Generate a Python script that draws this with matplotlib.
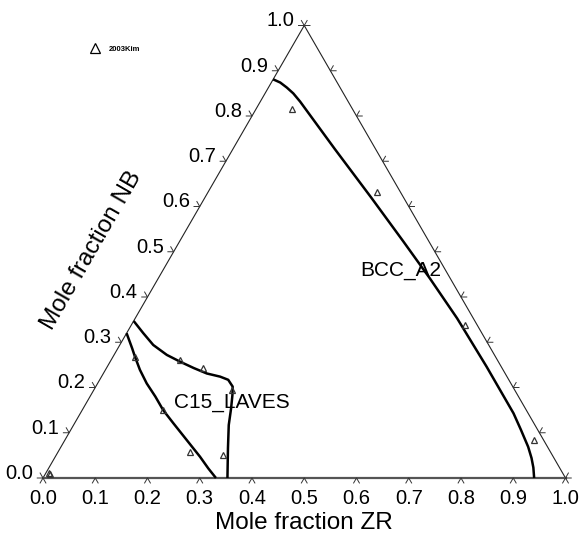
import numpy as np
import matplotlib
matplotlib.use("Agg")
import matplotlib.pyplot as plt

plt.rcParams['font.family'] = ['Liberation Sans', 'DejaVu Sans']

# boundary lines, (mole fraction ZR, mole fraction NB)
bcc_zr = [0.0, 0.017, 0.035, 0.054, 0.076, 0.195, 0.318, 0.428, 0.520, 0.616, 0.726,
          0.829, 0.861, 0.894, 0.913, 0.927, 0.940]
bcc_nb = [0.881, 0.874, 0.863, 0.850, 0.832, 0.727, 0.620, 0.523, 0.441, 0.353, 0.246,
          0.143, 0.107, 0.069, 0.044, 0.023, 0.0]

c15_left_zr = [0.0, 0.027, 0.042, 0.066, 0.094, 0.125, 0.155, 0.189, 0.233, 0.277, 0.306, 0.331]
c15_left_nb = [0.320, 0.287, 0.268, 0.239, 0.209, 0.180, 0.150, 0.121, 0.084, 0.047, 0.021, 0.0]

c15_right_zr = [0.0, 0.032, 0.064, 0.101, 0.134, 0.167, 0.198, 0.227, 0.246, 0.262, 0.271,
                0.283, 0.297, 0.321, 0.353]
c15_right_nb = [0.347, 0.320, 0.294, 0.272, 0.257, 0.243, 0.231, 0.224, 0.217, 0.202, 0.183,
                0.154, 0.117, 0.066, 0.0]

# experimental points 2003Kim
kim_zr = [0.069, 0.322, 0.639, 0.898, 0.042, 0.131, 0.186, 0.264, 0.155, 0.252, 0.319, 0.006, 0.009]
kim_nb = [0.816, 0.633, 0.338, 0.084, 0.268, 0.261, 0.242, 0.195, 0.150, 0.058, 0.051, 0.012, 0.009]

tick_vals = [round(0.1 * i, 1) for i in range(11)]
tick_labels = ["%.1f" % v for v in tick_vals]

H = np.sqrt(3) / 2


def tern(zr, nb):
    zr = np.asarray(zr, dtype=float)
    nb = np.asarray(nb, dtype=float)
    return zr + nb / 2, nb * H


fig = plt.figure(figsize=(5.81, 5.46), dpi=100)
ax = fig.add_axes([0, 0, 1, 1])
ax.set_xlim(-43 / 522.5, 538 / 522.5)
ax.set_ylim(-68 / 522.5, 478 / 522.5)
ax.axis("off")

# triangle frame
ax.plot([0, 0.5], [0, H], color="#222222", lw=0.8)
ax.plot([1, 0.5], [0, H], color="#222222", lw=0.8)
ax.plot([0, 1], [0, 0], color="#555555", lw=1.6)

# ticks (chevrons parallel to the other two sides)
L = 0.011
tcol = "#333333"
for v, lab in zip(tick_vals, tick_labels):
    # bottom axis
    x0, y0 = tern(v, 0)
    ax.plot([x0 - L * 0.5, x0, x0 + L * 0.5], [y0 - L * H, y0, y0 - L * H], color=tcol, lw=0.7)
    ax.text(x0, y0 - 0.039, lab, ha="center", va="center", fontsize=14.5)
    # left axis
    x1, y1 = tern(0, v)
    ax.plot([x1 - L, x1, x1 - L * 0.5], [y1, y1, y1 + L * H], color=tcol, lw=0.7)
    ax.text(x1 - 0.019, y1 + 0.009, lab, ha="right", va="center", fontsize=14.5)
    # right side
    x2, y2 = tern(1 - v, v)
    ax.plot([x2 + L, x2, x2 + L * 0.5], [y2, y2, y2 + L * H], color=tcol, lw=0.7)

# phase boundaries
for zr, nb in [(bcc_zr, bcc_nb), (c15_left_zr, c15_left_nb), (c15_right_zr, c15_right_nb)]:
    x, y = tern(zr, nb)
    ax.plot(x, y, color="black", lw=1.8, solid_capstyle="butt", solid_joinstyle="round")

x, y = tern(kim_zr, kim_nb)
ax.plot(x, y, ls="none", marker="^", ms=4.5, mfc="none", mec="#333333", mew=0.9)

ax.text(0.250, 0.145, "C15_LAVES", fontsize=15, ha="left", va="center")
ax.text(0.608, 0.397, "BCC_A2", fontsize=15, ha="left", va="center")

# legend
ax.plot([0.0995], [0.823], ls="none", marker="^", ms=6.5, mfc="none", mec="black", mew=0.9)
ax.text(0.126, 0.821, "2003Kim", fontsize=5.5, fontweight="bold", ha="left", va="center")

ax.text(0.5, -0.087, "Mole fraction ZR", fontsize=17.5, ha="center", va="center")
ax.text(0.093, 0.435, "Mole fraction NB", fontsize=17.5, ha="center", va="center", rotation=60)

fig.savefig("out.png", dpi=100)
